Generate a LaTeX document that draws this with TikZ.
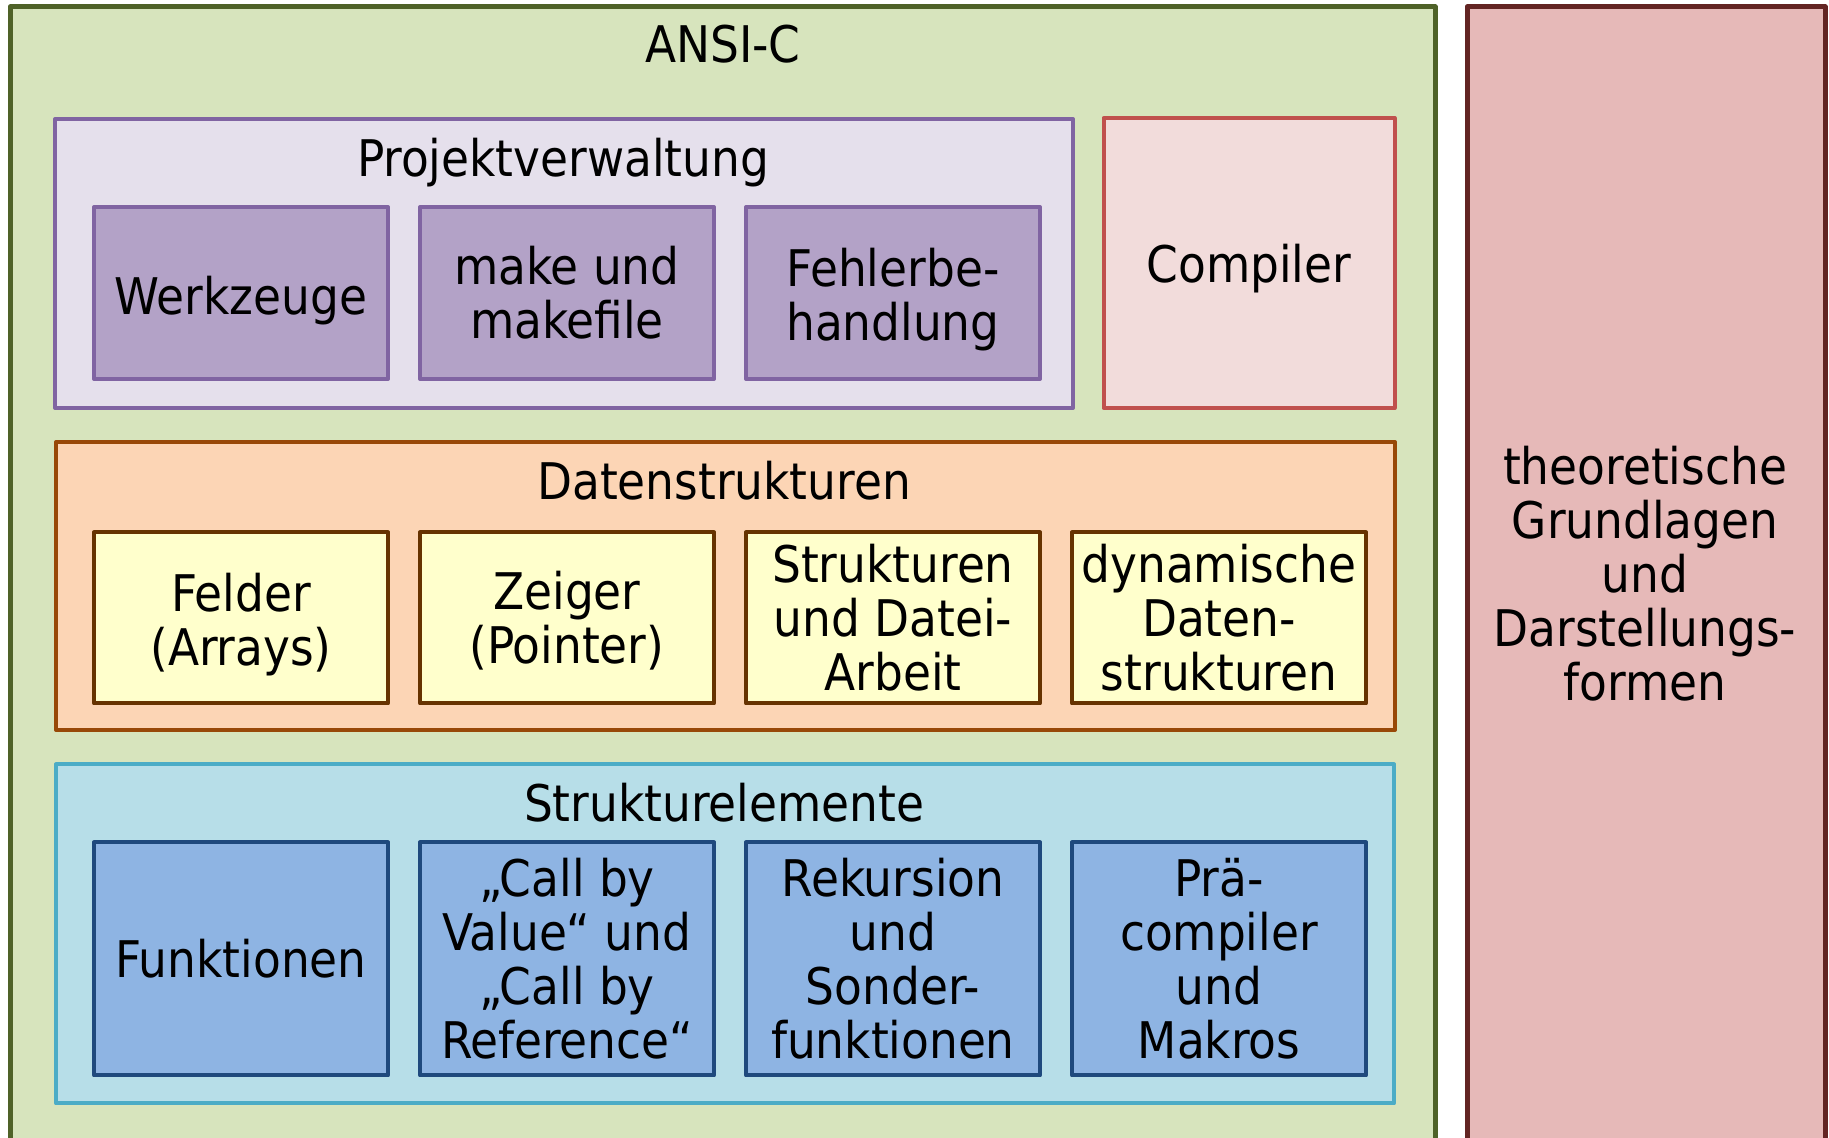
\documentclass[tikz,border=0pt]{standalone}
\usepackage{fontspec}
\setmainfont{DejaVu Sans Condensed}
\begin{document}
\begin{tikzpicture}[x=1pt,y=1pt,
  label text/.style={inner sep=0pt,outer sep=0pt,align=center,
    font=\fontsize{50.5}{54}\selectfont},
  frame/.style 2 args={draw=#1,fill=#2,line width=4pt,line join=round,
    inner sep=0pt,outer sep=0pt},
  item/.style 2 args={frame={#1}{#2},label text,minimum width=294pt}]
\definecolor{fillColor}{RGB}{255,255,255}
\path[fill=fillColor,use as bounding box] (0,0) rectangle (1829,1138);
\clip (0,0) rectangle (1829,1138);

% outer frames
\begin{scope}
\definecolor{drawColor}{RGB}{79,98,40}
\definecolor{fillColor}{RGB}{215,228,189}
\node[frame={drawColor}{fillColor},line width=5pt,minimum width=1425pt,minimum height=1143pt] (ansic) at (722.5,559.5) {};
\end{scope}
\begin{scope}
\definecolor{drawColor}{RGB}{99,37,35}
\definecolor{fillColor}{RGB}{230,185,184}
\node[frame={drawColor}{fillColor},line width=5pt,minimum width=358pt,minimum height=1143pt] (theorie) at (1646,559.5) {};
\end{scope}
\node[label text] (ansictitle) at (723,1094) {ANSI-C};
\node[label text] (theorietext) at (1645,564) {theoretische\\Grundlagen\\und\\Darstellungs-\\formen};

% Projektverwaltung
\begin{scope}
\definecolor{drawColor}{RGB}{128,100,162}
\definecolor{fillColor}{RGB}{229,224,236}
\definecolor{itemColor}{RGB}{179,162,199}
\node[frame={drawColor}{fillColor},minimum width=1018pt,minimum height=289pt] (projekt) at (564,874.5) {};
\node[label text] (projekttitle) at (563,975) {Projektverwaltung};
\node[item={drawColor}{itemColor},minimum height=172pt] (werkzeuge) at (241,845) {\rule{0pt}{54pt}Werkzeuge};
\node[item={drawColor}{itemColor},minimum height=172pt] (make) at (567,845) {make und\\makefile};
\node[item={drawColor}{itemColor},minimum height=172pt] (fehler) at (893,845) {\rule{0pt}{52pt}Fehlerbe-\\handlung};
\end{scope}
\begin{scope}
\definecolor{drawColor}{RGB}{192,80,77}
\definecolor{fillColor}{RGB}{242,220,219}
\node[frame={drawColor}{fillColor},label text,minimum width=291pt,minimum height=290pt] (compiler) at (1249,875) {\rule{0pt}{50pt}Compiler};
\end{scope}

% Datenstrukturen
\begin{scope}
\definecolor{drawColor}{RGB}{152,72,7}
\definecolor{fillColor}{RGB}{252,213,181}
\definecolor{itemDraw}{RGB}{102,51,0}
\definecolor{itemColor}{RGB}{255,255,204}
\node[frame={drawColor}{fillColor},minimum width=1339pt,minimum height=288pt] (daten) at (725.5,552) {};
\node[label text] (datentitle) at (724,657) {Datenstrukturen};
\node[item={itemDraw}{itemColor},minimum height=171pt] (felder) at (241,520) {\rule{0pt}{52pt}Felder\\(Arrays)};
\node[item={itemDraw}{itemColor},minimum height=171pt] (zeiger) at (567,520) {\rule{0pt}{44pt}Zeiger\\(Pointer)};
\node[item={itemDraw}{itemColor},minimum height=171pt] (strukturen) at (893,520) {Strukturen\\und Datei-\\Arbeit};
\node[item={itemDraw}{itemColor},minimum height=171pt] (dynamisch) at (1219,520) {dynamische\\Daten-\\strukturen};
\end{scope}

% Strukturelemente
\begin{scope}
\definecolor{drawColor}{RGB}{75,172,198}
\definecolor{fillColor}{RGB}{183,222,232}
\definecolor{itemDraw}{RGB}{31,73,125}
\definecolor{itemColor}{RGB}{142,180,227}
\node[frame={drawColor}{fillColor},minimum width=1338pt,minimum height=339pt] (elemente) at (725,204) {};
\node[label text] (elementetitle) at (724,335.5) {Strukturelemente};
\node[item={itemDraw}{itemColor},minimum height=233pt] (funktionen) at (241,179) {Funktionen};
\node[item={itemDraw}{itemColor},minimum height=233pt] (call) at (567,179) {„Call by\\Value“ und\\„Call by\\Reference“};
\node[item={itemDraw}{itemColor},minimum height=233pt] (rekursion) at (893,179) {Rekursion\\und\\Sonder-\\funktionen};
\node[item={itemDraw}{itemColor},minimum height=233pt] (prae) at (1219,179) {Prä-\\compiler\\und\\Makros};
\end{scope}
\end{tikzpicture}
\end{document}
